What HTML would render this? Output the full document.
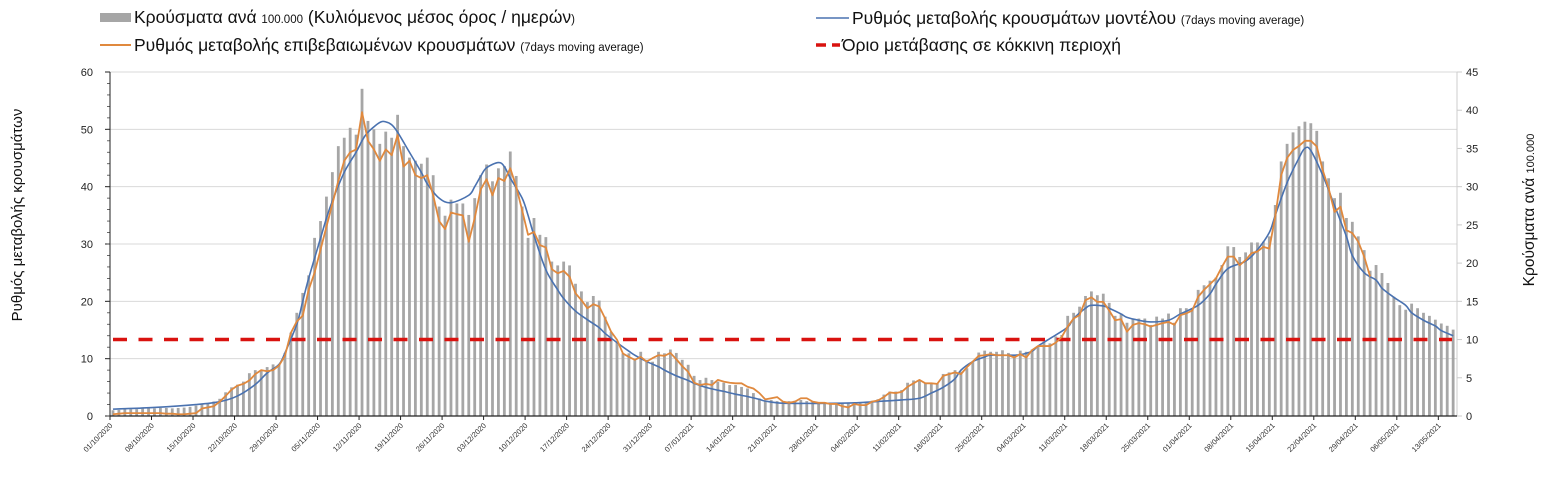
<!DOCTYPE html>
<html><head><meta charset="utf-8"><style>
html,body{margin:0;padding:0;background:#fff;}
body{width:1551px;height:497px;overflow:hidden;font-family:"Liberation Sans",sans-serif;}
svg text{font-family:"Liberation Sans",sans-serif;}
</style></head><body>
<svg id="chart" width="1551" height="497" viewBox="0 0 1551 497" xmlns="http://www.w3.org/2000/svg">
<g id="legend">
 <g>
  <rect x="100" y="13" width="31" height="9" fill="#a6a6a6"/>
  <text x="134" y="23" font-size="17.5" fill="#111">Κρούσματα ανά <tspan font-size="11.5">100.000</tspan> (Κυλιόμενος μέσος όρος / ημερών<tspan font-size="11.5">)</tspan></text>
 </g>
 <g>
  <line x1="100" y1="45" x2="131" y2="45" stroke="#e0893e" stroke-width="2"/>
  <text x="134" y="51" font-size="17.5" fill="#111">Ρυθμός μεταβολής επιβεβαιωμένων κρουσμάτων <tspan font-size="11.5">(7days moving average)</tspan></text>
 </g>
 <g>
  <line x1="816" y1="18" x2="849" y2="18" stroke="#4a72b0" stroke-width="1.5"/>
  <text x="852" y="24" font-size="17.5" fill="#111">Ρυθμός μεταβολής κρουσμάτων μοντέλου <tspan font-size="11.5">(7days moving average)</tspan></text>
 </g>
 <g>
  <line x1="816" y1="45" x2="826" y2="45" stroke="#d9120f" stroke-width="3.5"/>
  <line x1="832" y1="45" x2="840" y2="45" stroke="#d9120f" stroke-width="3.5"/>
  <text x="842" y="51" font-size="17.5" fill="#111">Όριο μετάβασης σε κόκκινη περιοχή</text>
 </g>
</g>
<text transform="translate(22,215) rotate(-90)" text-anchor="middle" font-size="15" fill="#111">Ρυθμός μεταβολής κρουσμάτων</text>
<text transform="translate(1534,210) rotate(-90)" text-anchor="middle" font-size="15.5" fill="#111">Κρούσματα ανά <tspan font-size="11">100.000</tspan></text>
<g id="grid"></g><g id="bars"></g><g id="lines"></g><g id="axes"></g>
</svg>
<script>
const xLabels=["01/10/2020","08/10/2020","15/10/2020","22/10/2020","29/10/2020","05/11/2020","12/11/2020","19/11/2020","26/11/2020","03/12/2020","10/12/2020","17/12/2020","24/12/2020","31/12/2020","07/01/2021","14/01/2021","21/01/2021","28/01/2021","04/02/2021","11/02/2021","18/02/2021","25/02/2021","04/03/2021","11/03/2021","18/03/2021","25/03/2021","01/04/2021","08/04/2021","15/04/2021","22/04/2021","29/04/2021","06/05/2021","13/05/2021"];
const leftTicks=[0,10,20,30,40,50,60];
const rightTicks=[0,5,10,15,20,25,30,35,40,45];
// cases per 100k (right axis), one per day from 01/10/2020
const casesPer100k=[0.75,0.8,0.9,0.9,0.9,1.0,1.0, 1.0,1.05,1.05,1.0,1.05,1.1,1.2, 1.35,1.5,1.7,1.9,2.25,3.1,3.75, 4.1,4.5,5.6,6.0,6.0,6.4,6.75, 6.75,8.25,10.9,13.5,16.1,18.4,23.3, 25.5,28.7,31.9,35.3,36.4,37.7,36.8, 42.8,38.6,37.5,35.6,37.2,36.4,39.4, 35.3,33.8,33.4,33,33.8,31.5,27.4, 26.2,28.3,27.8,27.8,26.3,28.5,31.5, 32.9,30.7,32.4,32.7,34.6,31.4,27.4, 23.3,25.9,23.7,23.4,20.2,19.7,20.2, 19.7,17.3,16.3,14.9,15.7,15.1,13.0, 11.0,9.75,8.2,8.2,7.5,8.4,7.35, 7.1,8.4,8.2,8.7,8.25,7.35,6.7, 5.25,4.7,5.0,4.7,4.5,4.35,4.05, 4.05,3.8,3.6,3.0,2.3,2.0,2.1, 1.95,1.9,1.95,2.0,2.1,1.95,1.9, 1.75,1.8,1.7,1.7,1.65,1.7,1.75, 1.75,1.7,2.0,2.2,2.8,3.2,3.2, 3.4,4.35,4.65,4.7,4.3,4.35,4.3, 5.5,5.7,6.0,5.8,6.25,7.1,8.3, 8.55,8.4,8.4,8.6,8.25,7.95,8.55, 8.4,8.7,9.1,9.75,9.5,10.4,10.6, 13.1,13.5,14.3,15.7,16.3,15.8,16.0, 14.8,13.1,13.4,12.2,12.75,12.75,12.75, 11.9,13.0,12.75,13.4,12.2,14.1,14.1, 14.1,16.5,17.1,17.7,18.1,19.75,22.2, 22.1,20.8,21.4,22.7,22.7,22.8,23.5, 27.6,33.3,35.6,37.1,37.9,38.5,38.3, 37.3,33.3,31.1,28.5,29.2,25.9,25.4, 23.5,21.7,19,19.75,18.7,17.4,15.6, 14.5,13.9,14.7,14.1,13.5,13.1,12.6, 12.1,11.8,11.3];
// confirmed cases rate (left axis), daily
const confirmedRate=[0.3,0.4,0.5,0.5,0.5,0.5,0.5,0.5,0.5,0.4,0.4,0.3,0.3,0.4, 0.5,1.3,1.5,1.7,2.5,3.5,4.6, 5.3,5.6,6.2,7.3,8.0,7.8,8.0, 8.8,10.5,14.5,16.5,17.5,22,25, 29,33,37,41,44.5,46,46.5, 53,48,46.5,44.5,46.5,45.5,49, 43.5,44.5,42,41.5,42,38.5,34, 32.6,35.5,35.2,35,30.4,34.5,39.5, 41.3,38.5,41.5,41,43.2,40,35.9, 31.6,32.1,29.8,29.4,25.6,24.9,25.3, 24.3,21.4,20.2,18.8,19.5,19.1,17, 14.7,13.3,10.9,10.3,9.8,10.3,9.5, 10.1,10.6,10.5,11,9.9,8.7,7.7, 5.8,5.4,5.6,5.4,6.3,6,5.8, 5.7,5.7,5.1,4.8,4,2.9,3.1, 3.3,2.5,2.3,2.5,3.1,3.1,2.5, 2.3,2.3,2.1,2.1,1.7,1.5,2.1, 1.9,1.9,2.5,2.7,3.3,4.1,4, 4.2,5.1,5.7,6.3,5.7,5.7,5.6, 7,7.3,7.6,7.3,8.5,9.5,10.5, 10.6,10.8,10.6,10.6,10.6,10.2,10.8, 10.2,11.5,12.2,12.2,12.2,12.8,13.8, 15.6,17,17.6,20.2,20.7,19.9,19.9, 18.4,16.7,16.9,14.7,15.9,16.2,16, 15.6,15.9,16.2,16.4,15.9,17.6,17.9, 18.4,20.8,22,23,24,26,27.8, 27.8,26.3,27.2,28.4,28.7,29.5,29.2, 34.8,42,45,46.4,47.1,48,48, 47,42.9,39.7,35.6,36.5,32.4,31.9, 30.4,27.8,24.3];
// model rate (left axis), sampled days and values
const modelDays=[0,7,14,18,21,24,26,28,29,31,32,33,35,36,37,39,41,42,43,45,46,47,48,50,52,53,55,57,60,61,62,63,65,66,67,69,70,71,73,75,76,78,80,82,83,85,87,88,90,92,93,95,97,98,100,102,103,105,107,109,110,112,114,117,120,125,130,133,136,138,140,142,143,145,147,148,151,153,155,156,158,161,162,164,165,167,168,170,171,173,175,178,180,183,185,186,188,191,193,195,196,198,200,201,202,204,206,208,209,211,213,214,216,218,219,221,223,224,226];
const modelRate=[1.2,1.5,2.0,2.5,3.5,5.5,7.5,9,11,16,20,24,31,34.5,37.5,42.5,46,48,49.5,51.2,51.3,50.8,49.5,46,42.5,40.5,38,37.2,38.5,40,41.8,43.3,44.2,43.5,41.5,38,35,31.5,25.5,22,20.5,18.3,16.8,15.4,14.4,12.8,11.3,10.6,9.5,8.6,8,7,6.2,5.7,5,4.5,4.3,3.8,3.4,2.9,2.6,2.3,2.2,2.2,2.2,2.3,2.6,2.8,3.1,4.0,5,6.5,8,9.5,10.3,10.6,10.6,10.7,11.3,12.2,13.5,15.5,17,18.8,19.3,19.2,18.8,17.8,17.2,16.7,16.4,16.7,17.8,19.3,21.3,23,25.7,27,29,32,35,40.7,45,46.7,46.3,42,36.7,31.3,28,25,23.7,22.3,20.7,19.3,18,16.7,15.7,14.9,14];
const thresholdPer100k=10;

const NS="http://www.w3.org/2000/svg";
const X0=110,DAY=5.93,Y0=416,H=344,XR=1457;
const xDay=d=>X0+(d+0.5)*DAY;
const xTick=i=>X0+i*7*DAY;
const yL=v=>Y0-v/60*H;
const yR=v=>Y0-v/45*H;
function mk(tag,attrs,parent){const e=document.createElementNS(NS,tag);for(const k in attrs)e.setAttribute(k,attrs[k]);parent.appendChild(e);return e;}
const grid=document.getElementById('grid'),bars=document.getElementById('bars'),lines=document.getElementById('lines'),axes=document.getElementById('axes');

leftTicks.forEach(t=>{
 if(t>0){const g=mk('line',{x1:X0,x2:XR,y1:yL(t),y2:yL(t),stroke:'#d9d9d9','stroke-width':1},grid);
 
 }
 const l=mk('text',{x:93,y:yL(t)+4,'text-anchor':'end','font-size':11,fill:'#222'},axes);l.textContent=t;
 
 
 mk('line',{x1:X0-5,x2:X0,y1:yL(t),y2:yL(t),stroke:'#222','stroke-width':1},axes);
});
for(let m=0;m<60;m+=2){mk('line',{x1:X0-3,x2:X0,y1:yL(m),y2:yL(m),stroke:'#444','stroke-width':0.8},axes);}
rightTicks.forEach(t=>{
 const l=mk('text',{x:1466,y:yR(t)+4,'font-size':11,fill:'#222'},axes);l.textContent=t;
 
 
 mk('line',{x1:XR,x2:XR+5,y1:yR(t),y2:yR(t),stroke:'#ccc','stroke-width':1},axes);
});
const la=mk('line',{x1:X0,x2:X0,y1:72,y2:Y0,stroke:'#222','stroke-width':1},axes);


const ra=mk('line',{x1:XR,x2:XR,y1:72,y2:Y0,stroke:'#ccc','stroke-width':1},axes);


const xa=mk('line',{x1:X0,x2:XR,y1:Y0,y2:Y0,stroke:'#222','stroke-width':1.2},axes);


xLabels.forEach((s,i)=>{
 const x=xTick(i);
 mk('line',{x1:x,x2:x,y1:Y0,y2:Y0+4,stroke:'#222','stroke-width':1},axes);
 const t=mk('text',{transform:`translate(${x+3},${Y0+10}) rotate(-45)`,'text-anchor':'end','font-size':7.5,fill:'#333'},axes);
 t.textContent=s;
 
 
});

casesPer100k.forEach((v,d)=>{
 const r=mk('rect',{x:xDay(d)-1.4,y:yR(v),width:2.8,height:Y0-yR(v),fill:'#a6a6a6'},bars);
 
 
});

const thr=mk('line',{x1:113,x2:1452,y1:yR(thresholdPer100k),y2:yR(thresholdPer100k),stroke:'#d9120f','stroke-width':3.5,'stroke-dasharray':'14 11.5'},lines);



function smooth(pts){let s=`M${pts[0][0]},${pts[0][1]}`;for(let i=0;i<pts.length-1;i++){const p0=pts[i-1]||pts[i],p1=pts[i],p2=pts[i+1],p3=pts[i+2]||p2;
 s+=` C${p1[0]+(p2[0]-p0[0])/6},${p1[1]+(p2[1]-p0[1])/6} ${p2[0]-(p3[0]-p1[0])/6},${p2[1]-(p3[1]-p1[1])/6} ${p2[0]},${p2[1]}`;}return s;}
const mPts=modelDays.map((d,i)=>[xDay(d),yL(modelRate[i])]);
const mp=mk('path',{d:smooth(mPts),fill:'none',stroke:'#4a72b0','stroke-width':1.6},lines);


const oPts=confirmedRate.map((v,d)=>`${xDay(d)},${yL(v)}`).join(' ');
const op=mk('polyline',{points:oPts,fill:'none',stroke:'#e0893e','stroke-width':1.8,'stroke-linejoin':'round'},lines);


</script>
</body></html>
